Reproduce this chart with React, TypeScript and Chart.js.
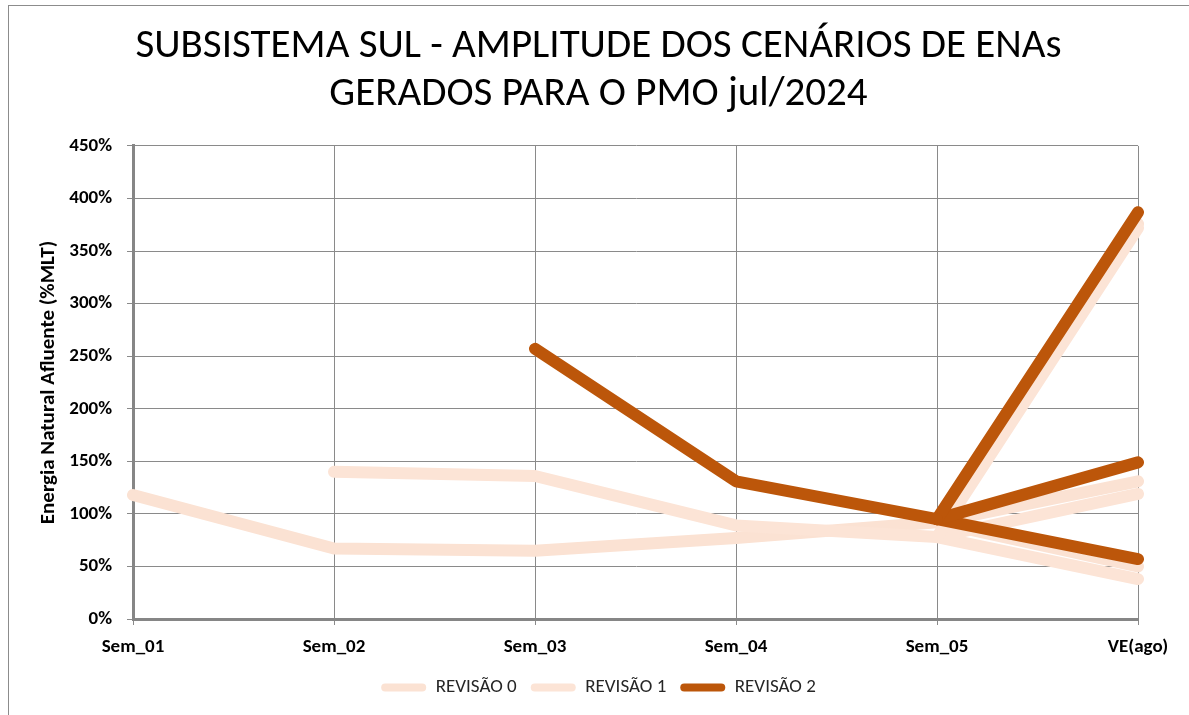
import React, { useEffect, useRef } from "react";
import { Chart, registerables } from "chart.js";

Chart.register(...registerables);

const categories = ["Sem_01", "Sem_02", "Sem_03", "Sem_04", "Sem_05", "VE(ago)"];
const yTicks = [0, 50, 100, 150, 200, 250, 300, 350, 400, 450];

// REVISÃO 0
const rev0Path = [118, 67, 65, 77, 92, null];
const rev0High = [null, null, null, null, 92, 376];
const rev0Mid = [null, null, null, null, 92, 131];
const rev0Low = [null, null, null, null, 92, 50];
// REVISÃO 1
const rev1Path = [null, 140, 136, 89, 78, null];
const rev1High = [null, null, null, null, 78, 372];
const rev1Mid = [null, null, null, null, 78, 119];
const rev1Low = [null, null, null, null, 78, 38];
// REVISÃO 2
const rev2Path = [null, null, 257, 131, 95, null];
const rev2High = [null, null, null, null, 95, 387];
const rev2Mid = [null, null, null, null, 95, 149];
const rev2Low = [null, null, null, null, 95, 57];

const labels = ["REVISÃO 0", "REVISÃO 1", "REVISÃO 2"];
const colors = ["#FBE2D3", "#FCE4D6", "#BC560A"];

const FONT = "Carlito, Lato, 'Open Sans', sans-serif";

export default function App() {
  const ref = useRef<HTMLCanvasElement | null>(null);
  useEffect(() => {
    document.body.style.margin = "0";
    document.body.style.overflow = "hidden";
    const groups = [
      [rev0Path, rev0High, rev0Mid, rev0Low],
      [rev1Path, rev1High, rev1Mid, rev1Low],
      [rev2Path, rev2High, rev2Mid, rev2Low],
    ];
    const datasets: any[] = [];
    const legendIdx: number[] = [];
    groups.forEach((g, gi) => {
      g.forEach((arr, k) => {
        if (k === 0) legendIdx.push(datasets.length);
        datasets.push({
          label: labels[gi],
          data: arr,
          borderColor: colors[gi],
          backgroundColor: colors[gi],
          borderWidth: 12,
          pointRadius: 0,
          borderCapStyle: "round",
          borderJoinStyle: "round",
          tension: 0,
          spanGaps: false,
          order: 2 - gi,
        });
      });
    });
    const borderPlugin = {
      id: "outerBorder",
      beforeDraw(chart: any) {
        const ctx = chart.ctx;
        ctx.save();
        ctx.fillStyle = "#ffffff";
        ctx.fillRect(0, 0, chart.width, chart.height);
        ctx.strokeStyle = "#8c8c8c";
        ctx.lineWidth = 1;
        ctx.strokeRect(8.5, 5.5, 1250, 760);
        ctx.restore();
      },
    };
    const chart = new Chart(ref.current as HTMLCanvasElement, {
      type: "line",
      data: { labels: categories, datasets },
      plugins: [borderPlugin],
      options: {
        responsive: false,
        animation: false,
        layout: { padding: { left: 8, right: 0, top: 0, bottom: 8 } },
        plugins: {
          tooltip: { enabled: false },
          title: {
            display: true,
            text: ["SUBSISTEMA SUL - AMPLITUDE DOS CENÁRIOS DE ENAs", "GERADOS PARA O PMO jul/2024"],
            color: "#000000",
            font: { family: FONT, size: 41, weight: "normal", lineHeight: 1.17 },
            padding: { top: 23, bottom: 27 },
          },
          legend: {
            display: true,
            position: "bottom",
            labels: {
              color: "#262626",
              font: { family: FONT, size: 19 },
              boxWidth: 45,
              boxHeight: 8,
              padding: 14,
              useBorderRadius: true,
              borderRadius: 4,
              filter: (item: any) => legendIdx.includes(item.datasetIndex),
              generateLabels: (chart: any) =>
                chart.data.datasets.map((ds: any, i: number) => ({
                  text: ds.label,
                  fillStyle: ds.borderColor,
                  strokeStyle: ds.borderColor,
                  lineWidth: 0,
                  hidden: false,
                  datasetIndex: i,
                  fontColor: "#262626",
                  borderRadius: 4,
                })),
            },
          },
        },
        scales: {
          x: {
            type: "category",
            offset: false,
            grid: { color: "#8a8a8a", lineWidth: 1, tickLength: 6, drawTicks: true },
            border: { color: "#868686", width: 3 },
            ticks: {
              color: "#000000",
              font: { family: FONT, size: 19, weight: "bold" },
              padding: 11,
              maxRotation: 0,
              autoSkip: false,
            },
            afterFit: (s: any) => {
              s.height = 45;
              s.paddingRight = 51;
            },
          },
          y: {
            min: 0,
            max: 450,
            afterBuildTicks: (s: any) => {
              s.ticks = yTicks.map((v) => ({ value: v }));
            },
            grid: { color: "#8a8a8a", lineWidth: 1, tickLength: 6 },
            border: { color: "#868686", width: 3 },
            ticks: {
              color: "#000000",
              font: { family: FONT, size: 19, weight: "bold" },
              padding: 15,
              callback: (v: any) => v + "%",
            },
            title: {
              display: true,
              text: "Energia Natural Afluente (%MLT)",
              color: "#000000",
              font: { family: FONT, size: 21, weight: "bold" },
              padding: { top: 28, bottom: 0 },
            },
            afterFit: (s: any) => {
              s.width = 125;
            },
          },
        },
      },
    });
    return () => chart.destroy();
  }, []);
  return (
    <div style={{ width: 1189, height: 715, position: "relative" }}>
      <canvas ref={ref} width={1189} height={715} style={{ display: "block" }} />
    </div>
  );
}
